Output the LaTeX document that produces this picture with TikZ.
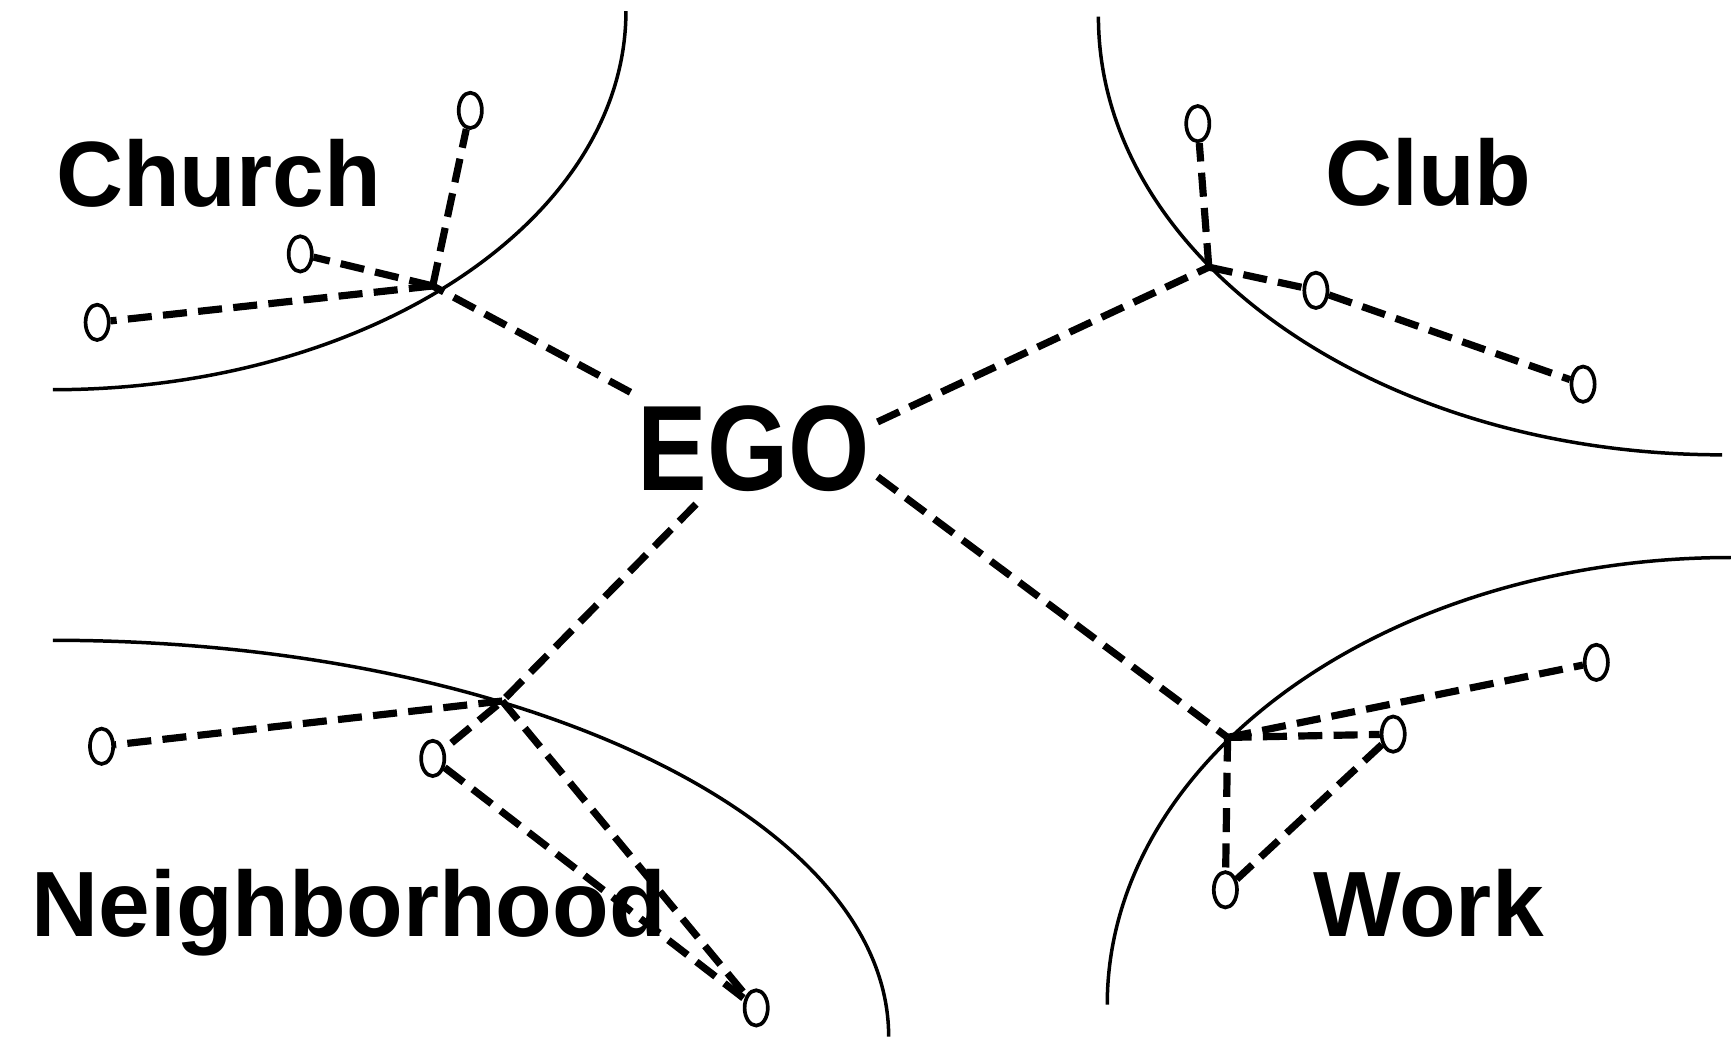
\documentclass[tikz,border=0pt]{standalone}
\usepackage{fontspec}
\setmainfont{Liberation Sans}
\usetikzlibrary{shapes.geometric}

\begin{document}
\begin{tikzpicture}[x=0.01cm, y=-0.01cm,
	region/.style={line width=.9pt},
	tie/.style={line width=1.85pt, dash pattern=on 6.2pt off 2.9pt},
	person/.style={draw, ellipse, line width=.95pt, minimum width=.21cm, minimum height=.32cm, inner sep=0pt},
	field/.style={font=\fontsize{23.9}{28}\selectfont\bfseries, anchor=base, inner sep=0pt}]
	
	\useasboundingbox (0,0) rectangle (1568,939);
	
	% Regions
	\draw[region] (567,10) arc[start angle=0, end angle=90, x radius=519, y radius=343];
	\draw[region] (995,15) arc[start angle=180, end angle=90, x radius=565, y radius=397];
	\draw[region] (48,580) arc[start angle=-90, end angle=0, x radius=757, y radius=359];
	\draw[region] (1003,910) arc[start angle=180, end angle=270, x radius=565, y radius=405];
	
	\node[field] (church) at (198,187) {Church};
	\node[field] (club) at (1294,186) {Club};
	\node[field] (nbhd) at (316,848) {Neighborhood};
	\node[field] (work) at (1294,848) {Work};
	
	% Ego
	\node[font=\fontsize{31.3}{36}\selectfont\bfseries, inner xsep=.06cm, inner ysep=.11cm] (ego) at (683,406) {\scalebox{.86}[1]{EGO}};
	
	\coordinate (churchhub) at (392,259);
	\coordinate (clubhub) at (1095,242);
	\coordinate (nbhdhub) at (455,635);
	\coordinate (workhub) at (1112,668);
	
	% Persons
	\node[person] (ch1) at (426,100) {};
	\node[person] (ch2) at (272,230) {};
	\node[person] (ch3) at (88,292) {};
	\node[person] (cl1) at (1085,112) {};
	\node[person] (cl2) at (1192,263) {};
	\node[person] (cl3) at (1434,348) {};
	\node[person] (nb1) at (92,676) {};
	\node[person] (nb2) at (392,687) {};
	\node[person] (nb3) at (685,913) {};
	\node[person] (wk1) at (1446,600) {};
	\node[person] (wk2) at (1262,665) {};
	\node[person] (wk3) at (1110,806) {};
	
	% Ties
	\draw[tie] (ego.north west) -- (churchhub);
	\draw[tie] (ego.12) -- (clubhub);
	\draw[tie] (ego.224) -- (nbhdhub) -- (nb2);
	\draw[tie] (ego.-13) -- (workhub);
	\foreach \p in {ch1,ch2,ch3}
		\draw[tie] (churchhub) -- (\p);
	\foreach \p in {cl1,cl2}
		\draw[tie] (clubhub) -- (\p);
	\foreach \p in {nb1,nb3}
		\draw[tie] (nbhdhub) -- (\p);
	\foreach \p in {wk1,wk2,wk3}
		\draw[tie] (workhub) -- (\p);
	\draw[tie] (cl2) -- (cl3);
	\draw[tie] (nb2) -- (nb3);
	\draw[tie] (wk2) -- (wk3);
\end{tikzpicture}
\end{document}
